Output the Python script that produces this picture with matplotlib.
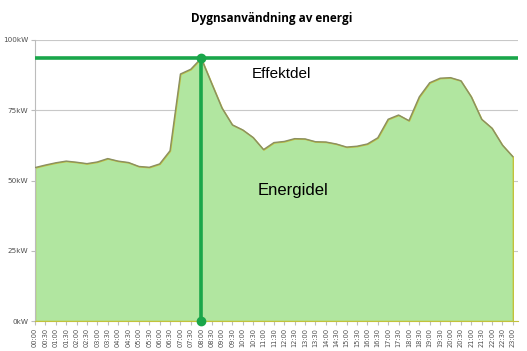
import numpy as np
import matplotlib
matplotlib.use('Agg')
import matplotlib.pyplot as plt

# half-hour time slots 00:00 .. 23:00
times = ['%02d:%02d' % (h, m) for h in range(24) for m in (0, 30)][:47]
# power usage in kW
power = [54.6, 55.5, 56.3, 56.9, 56.5, 56.0, 56.6, 57.8, 56.9, 56.4,
         55.0, 54.7, 55.9, 60.6, 87.9, 89.6, 93.5, 84.6, 75.8, 69.8,
         68.0, 65.3, 61.0, 63.5, 63.9, 64.9, 64.8, 63.8, 63.7, 63.0,
         61.9, 62.2, 63.0, 65.2, 71.8, 73.3, 71.3, 79.8, 84.8, 86.4,
         86.6, 85.5, 79.8, 71.8, 68.6, 62.6, 58.5]
yticks = [0, 25, 50, 75, 100]
peak_time = '08:00'

x = np.arange(len(times))
peak_idx = times.index(peak_time)
peak_val = max(power)

fig = plt.figure(figsize=(5.27, 3.51), dpi=100)
ax = fig.add_axes([35 / 527, 30 / 351, (518 - 35) / 527, (321 - 40) / 351])

# gridlines
for y in yticks:
    ax.axhline(y, color='#c8c8c8', lw=0.8, zorder=0)

# energy area
ax.fill_between(x, power, 0, color='#b1e6a0', edgecolor='#c2c23a', lw=1.0, zorder=2)
ax.plot(x, power, color='#8a8f62', lw=1.0, zorder=3)

# peak lines
ax.axhline(peak_val, color='#1aa64a', lw=2.6, zorder=4)
ax.plot([peak_idx, peak_idx], [0, peak_val], color='#1aa64a', lw=2.6, zorder=4,
        marker='o', markersize=6, clip_on=False)

ax.text(0.448, 0.865, 'Effektdel', transform=ax.transAxes, fontsize=11,
        family='Liberation Sans', color='black', zorder=5)
ax.text(0.46, 0.447, 'Energidel', transform=ax.transAxes, fontsize=12,
        family='Liberation Sans', color='black', zorder=5)

ax.set_xlim(0, 46.5)
ax.set_ylim(0, 100)
ax.set_yticks(yticks)
ax.set_yticklabels(['%dkW' % v for v in yticks], fontsize=5.2, color='#505050')
ax.set_xticks(x)
ax.set_xticklabels(times, rotation=90, fontsize=4.8, color='#505050')
ax.tick_params(axis='y', length=3, color='#bcbcbc', pad=2)
ax.tick_params(axis='x', length=3, color='#bcbcbc', pad=2)

for side in ['top', 'right']:
    ax.spines[side].set_visible(False)
ax.spines['left'].set_color('#bcbcbc')
ax.spines['bottom'].set_color('#c2c23a')
ax.spines['left'].set_linewidth(0.8)

fig.text(0.515, 0.948, 'Dygnsanvändning av energi', ha='center', va='center',
         fontsize=8.5, fontweight='bold', family='Open Sans')

fig.savefig('out.png', dpi=100)
